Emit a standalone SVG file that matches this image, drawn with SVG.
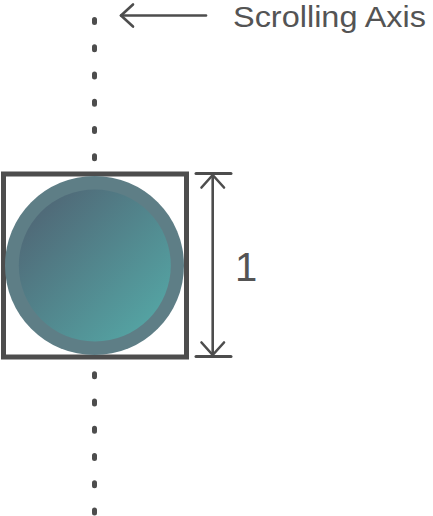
<svg xmlns="http://www.w3.org/2000/svg" width="433" height="516" viewBox="0 0 433 516">
<defs>
<style>
.ln{stroke:#4d4d4d;fill:none;stroke-linecap:round;stroke-linejoin:round}
.tx{font-family:"Liberation Sans","Open Sans",sans-serif;font-weight:400;fill:#545454}
</style>
<linearGradient id="g" x1="0" y1="0" x2="1" y2="1">
<stop offset="0" stop-color="#4f5f70"/>
<stop offset="1" stop-color="#55adaa"/>
</linearGradient>
</defs>
<rect width="433" height="516" fill="#ffffff"/>
<g id="axis">
<line class="ln" x1="94.5" y1="19.5" x2="94.5" y2="514" stroke-width="5" stroke-dasharray="3 24.25"/>
</g>
<g id="square">
<rect x="3.5" y="174" width="183" height="183" fill="none" stroke="#4d4d4d" stroke-width="5"/>
</g>
<g id="ball">
<circle cx="94.5" cy="265.5" r="89.5" fill="#5e7e86"/>
<circle cx="94.8" cy="265.5" r="76" fill="url(#g)"/>
</g>
<g id="connectors">
<g id="scroll-arrow">
<line class="ln" x1="121" y1="15.5" x2="206" y2="15.5" stroke-width="2.6"/>
<polyline class="ln" points="133,4.5 121,15.5 133,26.5" stroke-width="2.6"/>
</g>
<g id="dimension">
<line class="ln" x1="196" y1="173.5" x2="231" y2="173.5" stroke-width="3"/>
<line class="ln" x1="196" y1="356.5" x2="231" y2="356.5" stroke-width="3"/>
<line class="ln" x1="212.7" y1="175" x2="212.7" y2="355" stroke-width="2.6"/>
<polyline class="ln" points="201.5,187.5 212.7,175 224,187.5" stroke-width="2.6"/>
<polyline class="ln" points="201.5,342.5 212.7,355 224,342.5" stroke-width="2.6"/>
</g>
</g>
<g id="labels">
<text class="tx" x="233" y="27.2" font-size="29" textLength="193" lengthAdjust="spacingAndGlyphs">Scrolling Axis</text>
<text class="tx" x="235" y="281" font-size="40">1</text>
</g>
</svg>
